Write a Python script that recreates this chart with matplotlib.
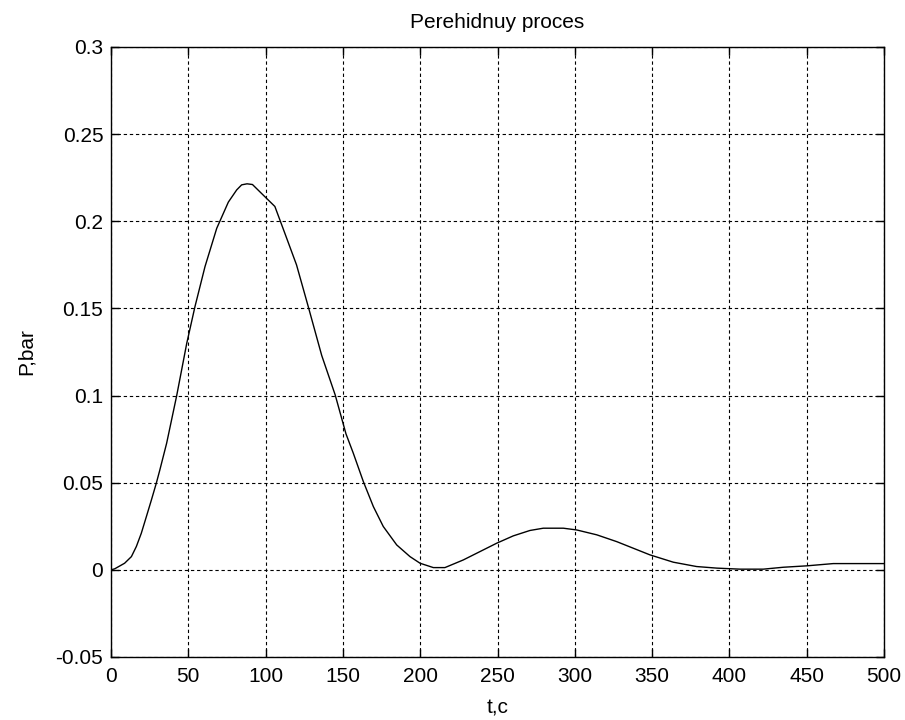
import matplotlib
matplotlib.use("Agg")
import matplotlib.pyplot as plt

t = [0, 2.4, 8.8, 13.2, 16.4, 19.6, 22.9, 26.1, 29.3, 31.5, 36, 42.5, 49, 54.3, 60.8, 68.4, 75.9, 81.3, 84.5, 88, 91.5,
     98.5, 106, 112.5, 120, 127.6, 136.3, 145, 152, 156.7, 163.2, 169.7, 176.1,
     184.8, 193.4, 199.9, 208.5, 216, 227.9, 238.7, 249.5, 260.2, 271, 279.6,
     292.6, 301.2, 314.2, 327.1, 348.6, 363.7, 378.8, 391.8, 406.9, 421.9,
     434.9, 450, 467.2, 500]
P = [0, 0.0006, 0.0038, 0.0076, 0.0134, 0.021, 0.0306, 0.040, 0.0497, 0.057, 0.0727, 0.100, 0.130, 0.151,
     0.174, 0.196, 0.211, 0.218, 0.2209, 0.2215, 0.2211, 0.215, 0.2085, 0.193, 0.175, 0.151,
     0.123, 0.1004, 0.078, 0.067, 0.0507, 0.0363, 0.0249, 0.0143, 0.0076, 0.0038,
     0.0013, 0.0013, 0.0057, 0.0105, 0.0153, 0.0195, 0.0226, 0.0239, 0.0239,
     0.0229, 0.0201, 0.0162, 0.0086, 0.0044, 0.0019, 0.001, 0.0004, 0.0004,
     0.0015, 0.0023, 0.0036, 0.0036]

xticks = [0, 50, 100, 150, 200, 250, 300, 350, 400, 450, 500]
yticks = [-0.05, 0, 0.05, 0.1, 0.15, 0.2, 0.25, 0.3]
ytick_labels = ["-0.05", "0", "0.05", "0.1", "0.15", "0.2", "0.25", "0.3"]

title = "Perehidnuy proces"
xlabel = "t,c"
ylabel = "P,bar"

plt.rcParams['font.family'] = ['Liberation Sans', 'DejaVu Sans']
fs = 15

fig = plt.figure(figsize=(9.05, 7.2), dpi=100)
ax = fig.add_axes([111/905, 1-657/720, (884-111)/905, (657-47)/720])
ax.plot(t, P, color='black', linewidth=1.0)
ax.set_xlim(0, 500)
ax.set_ylim(-0.05, 0.3)
ax.set_xticks(xticks)
ax.set_xticklabels([str(v) for v in xticks], fontsize=fs)
ax.set_yticks(yticks)
ax.set_yticklabels(ytick_labels, fontsize=fs)
ax.tick_params(direction='in', top=True, right=True, length=6, width=1.0)
ax.tick_params(axis='x', pad=7.5)
ax.tick_params(axis='y', pad=5.5)
ax.grid(True, color='black', linestyle=(0, (3, 2.5)), linewidth=0.8)
for s in ax.spines.values():
    s.set_linewidth(1.0)
ax.set_title(title, fontsize=fs, pad=14)
ax.set_xlabel(xlabel, fontsize=fs, labelpad=9)
ax.set_ylabel(ylabel, fontsize=fs, labelpad=14)

fig.savefig("out.png", dpi=100)
